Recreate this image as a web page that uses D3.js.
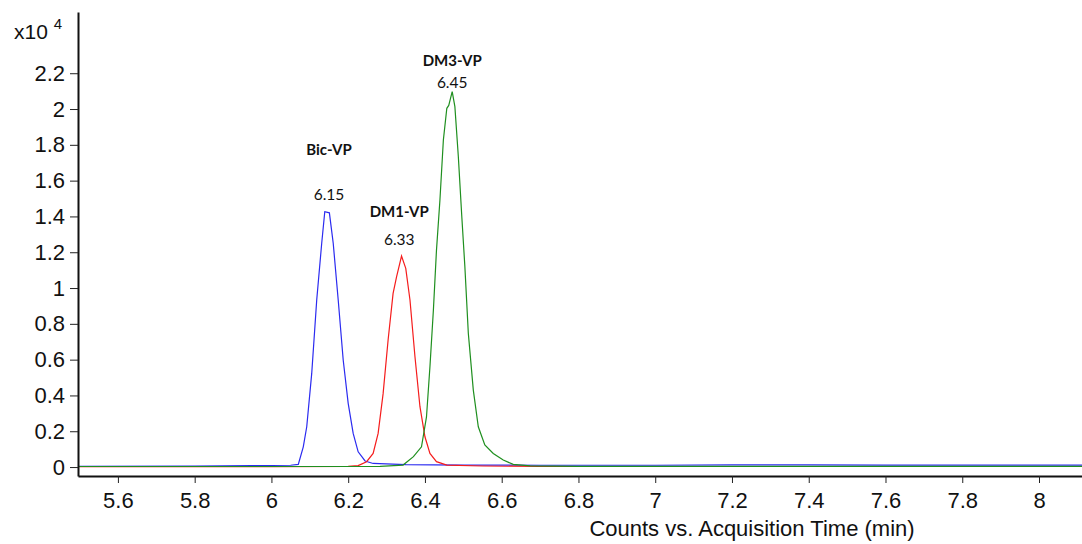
<!DOCTYPE html>
<meta charset="utf-8">
<html>
<script src="https://d3js.org/d3.v7.min.js"></script>
<style>
    body { margin: 0; background: #fff; }
    .tick text { font-family: "Liberation Sans", Arial, sans-serif; font-size: 22px; fill: #111; }
</style>
<body>
<div id="chart"></div>
<script>
    // Chromatogram traces (time in min, counts x10^4)
    var bicTime = [5.496, 5.8, 5.95, 6.05, 6.070, 6.083, 6.092, 6.105, 6.118, 6.131, 6.139, 6.151, 6.161, 6.174, 6.187, 6.200, 6.213, 6.226, 6.244, 6.265, 6.35, 6.5, 6.7, 7.0, 7.2, 7.4, 7.6, 7.8, 8.112];
    var bicValue = [0.004, 0.005, 0.008, 0.010, 0.015, 0.113, 0.225, 0.523, 0.933, 1.25, 1.426, 1.42, 1.25, 0.933, 0.598, 0.356, 0.188, 0.085, 0.034, 0.02, 0.014, 0.011, 0.010, 0.010, 0.012, 0.012, 0.011, 0.011, 0.011];

    var dm1Time = [5.496, 6.0, 6.2, 6.226, 6.248, 6.265, 6.278, 6.291, 6.304, 6.317, 6.326, 6.339, 6.350, 6.361, 6.374, 6.387, 6.400, 6.413, 6.430, 6.457, 6.55, 6.7, 8.112];
    var dm1Value = [0.002, 0.002, 0.004, 0.008, 0.03, 0.076, 0.188, 0.41, 0.71, 0.97, 1.063, 1.179, 1.11, 0.933, 0.616, 0.337, 0.169, 0.076, 0.03, 0.011, 0.006, 0.003, 0.003];

    var dm3Time = [5.496, 6.0, 6.283, 6.343, 6.370, 6.391, 6.404, 6.413, 6.422, 6.430, 6.439, 6.448, 6.457, 6.462, 6.471, 6.478, 6.487, 6.496, 6.504, 6.513, 6.526, 6.539, 6.556, 6.578, 6.604, 6.630, 6.674, 6.8, 8.112];
    var dm3Value = [0.003, 0.003, 0.004, 0.011, 0.058, 0.113, 0.28, 0.56, 0.877, 1.21, 1.49, 1.827, 2.004, 2.02, 2.097, 2.013, 1.733, 1.40, 1.12, 0.747, 0.43, 0.225, 0.123, 0.076, 0.039, 0.015, 0.007, 0.004, 0.004];

    // Peak annotations
    var peakNames = ["Bic-VP", "DM1-VP", "DM3-VP"];
    var peakLabels = ["6.15", "6.33", "6.45"];
    var peakTime = [6.150, 6.333, 6.471];
    var nameLevel = [1.743, 1.397, 2.240];
    var rtLevel = [1.492, 1.240, 2.117];

    var xTicks = [5.6, 5.8, 6, 6.2, 6.4, 6.6, 6.8, 7, 7.2, 7.4, 7.6, 7.8, 8];
    var yTicks = [0, 0.2, 0.4, 0.6, 0.8, 1, 1.2, 1.4, 1.6, 1.8, 2, 2.2];

    var width = 1082, height = 544;

    var svg = d3.select("#chart")
        .append("svg")
        .attr("width", width)
        .attr("height", height);

    var x = d3.scaleLinear().domain([5.496, 8.112]).range([78, 1082]);
    var y = d3.scaleLinear().domain([-0.05, 2.542]).range([476, 12]);

    // Traces
    var series = [
        { t: bicTime, v: bicValue, color: "#2b2bf0" },
        { t: dm1Time, v: dm1Value, color: "#f51c1c" },
        { t: dm3Time, v: dm3Value, color: "#1f8f1f" }
    ];
    var line = d3.line()
        .x(function (d) { return x(d[0]); })
        .y(function (d) { return y(d[1]); });

    series.forEach(function (s) {
        svg.append("path")
            .datum(s.t.map(function (t, i) { return [t, s.v[i]]; }))
            .attr("fill", "none")
            .attr("stroke", s.color)
            .attr("stroke-width", 1.2)
            .attr("d", line);
    });

    // X axis
    var xAxis = svg.append("g")
        .attr("transform", "translate(0,476)")
        .call(d3.axisBottom(x).tickValues(xTicks).tickSize(7).tickSizeOuter(0).tickPadding(9)
            .tickFormat(function (d) { return +d.toFixed(1); }));
    xAxis.select(".domain").attr("stroke", "#111").attr("stroke-width", 2);
    xAxis.selectAll(".tick line").attr("stroke", "#222");

    // Y axis
    var yAxis = svg.append("g")
        .attr("transform", "translate(78,0)")
        .call(d3.axisLeft(y).tickValues(yTicks).tickSize(8).tickSizeOuter(0).tickPadding(5)
            .tickFormat(function (d) { return +d.toFixed(1); }));
    yAxis.select(".domain").attr("stroke", "#111").attr("stroke-width", 2);
    yAxis.selectAll(".tick line").attr("stroke", "#222");

    // Scale exponent
    var expo = svg.append("text")
        .attr("x", 14)
        .attr("y", 39)
        .style("font-family", "Liberation Sans, Arial, sans-serif")
        .style("font-size", "21px")
        .style("fill", "#111");
    expo.append("tspan").text("x10 ");
    expo.append("tspan").attr("dy", -10).style("font-size", "15px").text("4");

    // Axis title
    svg.append("text")
        .attr("x", 752)
        .attr("y", 536)
        .attr("text-anchor", "middle")
        .style("font-family", "Liberation Sans, Arial, sans-serif")
        .style("font-size", "22px")
        .style("fill", "#111")
        .text("Counts vs. Acquisition Time (min)");

    // Peak labels
    peakNames.forEach(function (name, i) {
        svg.append("text")
            .attr("x", x(peakTime[i]))
            .attr("y", y(nameLevel[i]))
            .attr("text-anchor", "middle")
            .style("font-family", "Lato, sans-serif")
            .style("font-weight", "bold")
            .style("font-size", "15px")
            .style("fill", "#111")
            .text(name);
        svg.append("text")
            .attr("x", x(peakTime[i]))
            .attr("y", y(rtLevel[i]))
            .attr("text-anchor", "middle")
            .style("font-family", "Lato, sans-serif")
            .style("font-size", "15.5px")
            .style("fill", "#111")
            .text(peakLabels[i]);
    });
</script>
</body>
</html>
